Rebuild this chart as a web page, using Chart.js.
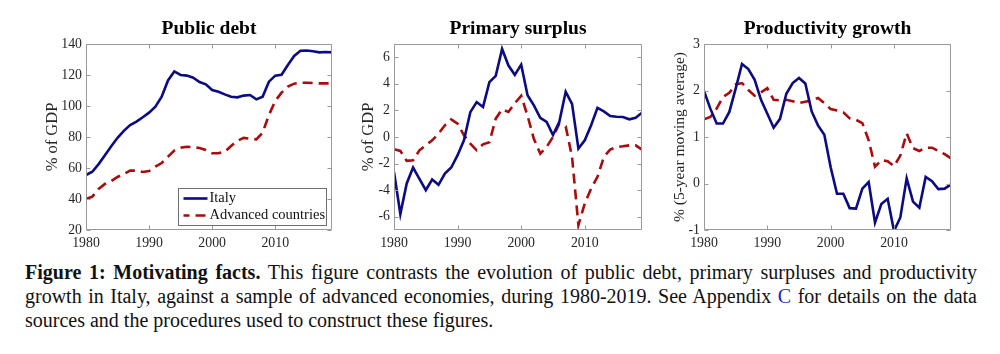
<!DOCTYPE html>
<html>
<head>
<meta charset="utf-8">
<script src="https://cdn.jsdelivr.net/npm/chart.js@4.4.1/dist/chart.umd.min.js"></script>
<style>
html,body{margin:0;padding:0;background:#fff;width:1000px;height:354px;overflow:hidden;}
canvas{position:absolute;top:0;}
#caption{position:absolute;left:25px;top:260px;width:952px;font-family:"Liberation Serif",serif;font-size:20px;line-height:24px;color:#111;}
#caption .ln{display:block;white-space:nowrap;}
#caption b{font-weight:bold;}
</style>
</head>
<body>
<canvas id="c1" width="301" height="255" style="left:43px;width:301px;height:255px"></canvas>
<canvas id="c2" width="295" height="255" style="left:359px;width:295px;height:255px"></canvas>
<canvas id="c3" width="292" height="255" style="left:671px;width:292px;height:255px"></canvas>
<div id="caption">
<span class="ln"><b>Figure 1: Motivating facts.</b> This figure contrasts the evolution of public debt, primary surpluses and productivity</span>
<span class="ln">growth in Italy, against a sample of advanced economies, during 1980-2019. See Appendix <span style="color:#1f1fc8">C</span> for details on the data</span>
<span class="ln" data-last="1">sources and the procedures used to construct these figures.</span>
</div>
<script>
// ---------- data ----------
const years = [1980,1981,1982,1983,1984,1985,1986,1987,1988,1989,
               1990,1991,1992,1993,1994,1995,1996,1997,1998,1999,
               2000,2001,2002,2003,2004,2005,2006,2007,2008,2009,
               2010,2011,2012,2013,2014,2015,2016,2017,2018,2019];
const xTickValues = [1980, 1990, 2000, 2010];
const seriesNames = ['Italy', 'Advanced countries'];
const panelTitles = ['Public debt', 'Primary surplus', 'Productivity growth'];
const yAxisTitles = ['% of GDP', '% of GDP', '% (5-year moving average)'];

const debtItaly = [55.5,57.6,62.5,68.2,74,79.5,84,87.7,89.9,92.7,
                   95.7,99.6,106,116.5,122.3,120,119.6,118.2,115.5,114,
                   110.3,109.2,107.5,106,105.6,106.7,107.1,104.3,106,115.7,
                   119.6,120.2,126.5,132.3,135.7,135.8,135.3,134.6,134.8,134.6];
const debtAdv   = [40,41.5,46.5,49.7,51.6,54.2,56.1,58.3,58.3,57.4,
                   58,60.9,63.2,67.3,71.2,73.1,73.7,73.4,72.9,71.6,
                   69.5,69.5,70.5,74.2,77.6,79.4,78.9,78.5,82.8,94.2,
                   103.2,108.6,112.5,114.4,115,115,114.8,114.6,114.6,114.6];

const surplusItaly = [-2.63,-5.8,-3.5,-2.3,-3.15,-4.0,-3.2,-3.6,-2.75,-2.3,
                      -1.37,-0.25,1.87,2.63,2.25,4.13,4.6,6.63,5.38,4.68,
                      5.45,3.15,2.38,1.45,1.13,0.15,1.15,3.4,2.5,-0.87,
                      -0.25,0.88,2.2,1.93,1.58,1.53,1.5,1.33,1.45,1.83];
const surplusAdv   = [-0.92,-1.05,-1.8,-1.75,-1.0,-0.63,-0.25,0.25,0.88,1.33,
                      1.0,0.13,-0.5,-1.0,-0.55,-0.4,1.38,2.08,1.88,2.55,
                      3.1,1.6,-0.15,-1.25,-0.75,0.0,1.0,0.8,-1.5,-6.63,
                      -5.0,-3.88,-3.0,-1.5,-0.95,-0.75,-0.7,-0.63,-0.63,-0.95];

const prodItaly = [1.99,1.61,1.29,1.29,1.54,2.04,2.57,2.46,2.23,1.8,
                   1.5,1.2,1.39,1.93,2.16,2.27,2.15,1.55,1.25,1.05,
                   0.35,-0.22,-0.22,-0.53,-0.54,-0.11,0.03,-0.84,-0.44,-0.33,
                   -1.02,-0.73,0.11,-0.39,-0.52,0.14,0.05,-0.12,-0.11,-0.02];
const prodAdv   = [1.38,1.43,1.61,1.86,1.95,2.13,2.16,2.01,1.89,1.96,
                   2.05,1.8,1.79,1.8,1.77,1.73,1.76,1.79,1.84,1.73,
                   1.6,1.57,1.53,1.4,1.37,1.3,0.93,0.36,0.5,0.48,
                   0.37,0.6,1.08,0.76,0.7,0.77,0.77,0.7,0.63,0.54];

const yRanges = [[20,140],[-7,7],[-1,3]];
const yTickValues = [[20,40,60,80,100,120,140],[-6,-4,-2,0,2,4,6],[-1,0,1,2,3]];

// ---------- styles ----------
const BLUE = '#0b0b82';
const RED  = '#a80c0c';
const FRAME = '#9a9a9a';
const TXT = '#262626';
const FONT = '"Liberation Serif", "Times New Roman", serif';
const yTitleSizes = [16.5, 16.5, 15.5];

const framePlugin = {
  id: 'frameTicks',
  afterDatasetsDraw(chart, args, opts) {
    const {ctx, chartArea: a, scales} = chart;
    ctx.save();
    ctx.strokeStyle = FRAME;
    ctx.lineWidth = 1;
    const L = Math.round(a.left) + 0.5, R = Math.round(a.right) - 0.5;
    const T = Math.round(a.top) + 0.5, B = Math.round(a.bottom) - 0.5;
    ctx.beginPath();
    ctx.rect(L, T, R - L, B - T);
    const tl = 4;
    scales.x.ticks.forEach(t => {
      const px = Math.round(scales.x.getPixelForValue(t.value)) + 0.5;
      ctx.moveTo(px, B); ctx.lineTo(px, B - tl);
      ctx.moveTo(px, T); ctx.lineTo(px, T + tl);
    });
    scales.y.ticks.forEach(t => {
      const py = Math.round(scales.y.getPixelForValue(t.value)) + 0.5;
      ctx.moveTo(L, py); ctx.lineTo(L + tl, py);
      ctx.moveTo(R, py); ctx.lineTo(R - tl, py);
    });
    ctx.stroke();
    // panel title
    ctx.fillStyle = '#000';
    ctx.font = 'bold 19.5px ' + FONT;
    ctx.textAlign = 'center';
    ctx.textBaseline = 'middle';
    ctx.fillText(opts.title, (a.left + a.right) / 2, 29);
    // legend
    if (opts.legend) {
      const w = 148, h = 37;
      const bx = Math.round(a.right - 6 - w) + 0.5, by = Math.round(a.bottom - 5 - h) + 0.5;
      ctx.fillStyle = '#fff';
      ctx.fillRect(bx, by, w, h);
      ctx.strokeStyle = '#6e6e6e';
      ctx.lineWidth = 1;
      ctx.strokeRect(bx, by, w, h);
      chart.data.datasets.forEach((ds, i) => {
        const yy = by + 10 + i * 17;
        ctx.beginPath();
        ctx.strokeStyle = ds.borderColor;
        ctx.lineWidth = ds.borderWidth;
        ctx.setLineDash(ds.borderDash || []);
        ctx.lineDashOffset = ds.borderDash ? 4 : 0;
        ctx.moveTo(bx + 5, yy);
        ctx.lineTo(bx + 29, yy);
        ctx.stroke();
        ctx.setLineDash([]);
        ctx.fillStyle = '#111';
        ctx.font = '14.5px ' + FONT;
        ctx.textAlign = 'left';
        ctx.textBaseline = 'middle';
        ctx.fillText(ds.label, bx + 31, yy);
      });
    }
    ctx.restore();
  }
};

function makeChart(id, idx, seriesA, seriesB, yWidth, legend) {
  const ticks = yTickValues[idx];
  return new Chart(document.getElementById(id), {
    type: 'line',
    data: {
      datasets: [
        { label: seriesNames[0], data: years.map((yr, i) => ({x: yr, y: seriesA[i]})),
          borderColor: BLUE, borderWidth: 2.6, pointRadius: 0, tension: 0, fill: false },
        { label: seriesNames[1], data: years.map((yr, i) => ({x: yr, y: seriesB[i]})),
          borderColor: RED, borderWidth: 2.6, borderDash: [10, 6], borderCapStyle: 'butt',
          pointRadius: 0, tension: 0, fill: false }
      ]
    },
    options: {
      responsive: false,
      animation: false,
      devicePixelRatio: 1,
      layout: { padding: { left: 0, right: 12, top: 44, bottom: 0 } },
      plugins: {
        legend: { display: false },
        tooltip: { enabled: false },
        title: { display: false },
        frameTicks: { title: panelTitles[idx], legend: legend }
      },
      scales: {
        x: {
          type: 'linear', min: 1980, max: 2019,
          grid: { display: false, drawTicks: false },
          border: { display: false },
          ticks: { padding: 5, color: TXT, font: { family: FONT, size: 13.8 },
                   maxRotation: 0, autoSkip: false, callback: v => String(v) },
          afterBuildTicks: s => { s.ticks = xTickValues.map(v => ({ value: v })); },
          afterFit: s => { s.height = 25; }
        },
        y: {
          type: 'linear', min: yRanges[idx][0], max: yRanges[idx][1],
          grid: { display: false, drawTicks: false },
          border: { display: false },
          ticks: { padding: 4, color: TXT, font: { family: FONT, size: 13.8 },
                   autoSkip: false, callback: v => String(v) },
          afterBuildTicks: s => { s.ticks = ticks.map(v => ({ value: v })); },
          afterFit: s => { s.width = yWidth; },
          title: { display: true, text: yAxisTitles[idx], color: TXT, padding: 0,
                   font: { family: FONT, size: yTitleSizes[idx] } }
        }
      }
    },
    plugins: [framePlugin]
  });
}

makeChart('c1', 0, debtItaly, debtAdv, 43, true);
makeChart('c2', 1, surplusItaly, surplusAdv, 35, false);
makeChart('c3', 2, prodItaly, prodAdv, 33, false);

// justify caption lines
document.querySelectorAll('#caption .ln').forEach(el => {
  if (el.dataset.last) return;
  el.style.display = 'inline-block';
  const w = el.getBoundingClientRect().width;
  const spaces = (el.textContent.match(/ /g) || []).length;
  el.style.wordSpacing = ((952 - w) / spaces) + 'px';
  el.style.display = 'block';
});
</script>
</body>
</html>
